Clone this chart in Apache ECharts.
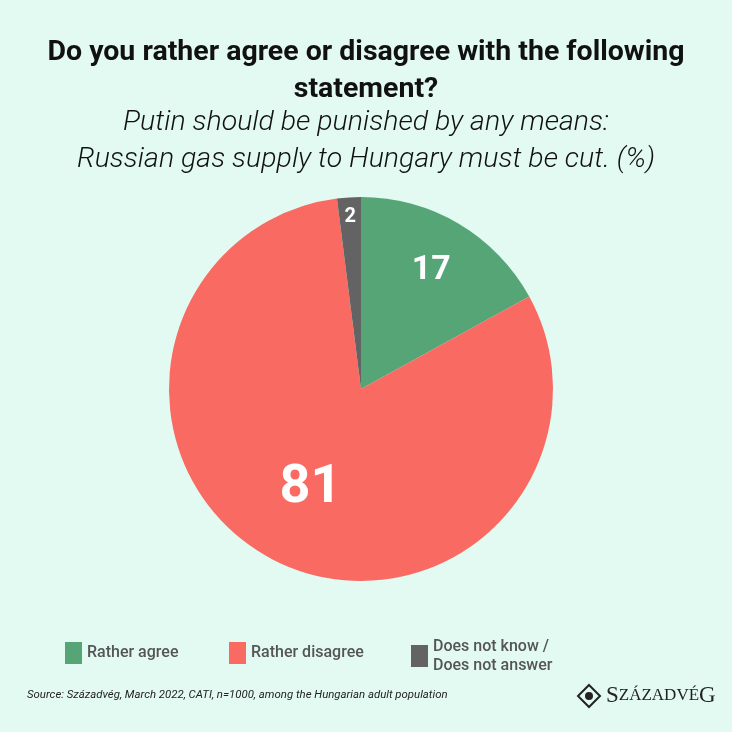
<!DOCTYPE html>
<html><head><meta charset="utf-8">
<script src="https://cdn.jsdelivr.net/npm/echarts@6/dist/echarts.min.js"></script>
<style>html,body{margin:0;padding:0;background:#e3faf2}#c{width:732px;height:732px}</style>
</head><body><div id="c"></div>
<script>
const categories = ['Rather agree', 'Rather disagree', 'Does not know /\nDoes not answer'];
const values = [17, 81, 2];
const colors = ['#55a577', '#f96a62', '#636363'];
const labelSizes = [34, 54, 20];
const labelRadiusFrac = [0.72, 0.58, 0.9];

const chart = echarts.init(document.getElementById('c'));
const CX = 361, CY = 389, R = 192;
const total = values.reduce((a, b) => a + b, 0);
const legendLefts = [60, 224, 406];
const FONT = 'Roboto';

chart.setOption({
  backgroundColor: '#e3faf2',
  title: [
    { text: 'Do you rather agree or disagree with the following\nstatement?', left: 'center', top: 29,
      textStyle: { fontFamily: FONT, fontWeight: 'bold', fontSize: 28.5, lineHeight: 37, color: '#111' } },
    { text: 'Putin should be punished by any means:\nRussian gas supply to Hungary must be cut. (%)', left: 'center', top: 99,
      textStyle: { fontFamily: FONT, fontStyle: 'italic', fontWeight: 300, fontSize: 28.5, lineHeight: 37, color: '#111' } }
  ],
  legend: categories.map((c, i) => ({
    data: [c], left: legendLefts[i], top: i === 2 ? 632 : 637, orient: 'horizontal',
    icon: 'rect', itemWidth: 17, itemHeight: 22, itemGap: 6, selectedMode: false,
    textStyle: { fontFamily: FONT, fontSize: 16, fontWeight: 500, color: '#555', lineHeight: 19, padding: [i === 2 ? 0 : 3, 0, 0, 0] }
  })),
  series: [{
    type: 'pie', center: [CX, CY], radius: R, startAngle: 90, clockwise: true,
    silent: true, avoidLabelOverlap: false,
    data: categories.map((c, i) => ({
      name: c, value: values[i], itemStyle: { color: colors[i] },
      label: { fontSize: labelSizes[i] }
    })),
    label: { show: true, position: 'inside', formatter: '{c}', color: '#fff', fontFamily: FONT, fontWeight: 'bold' },
    labelLine: { show: false },
    labelLayout: function (p) {
      let cum = 0;
      for (let k = 0; k < p.dataIndex; k++) cum += values[k];
      const mid = (cum + values[p.dataIndex] / 2) / total * 2 * Math.PI;
      const r = R * labelRadiusFrac[p.dataIndex];
      return { x: CX + r * Math.sin(mid), y: CY - r * Math.cos(mid), align: 'center', verticalAlign: 'middle' };
    }
  }],
  graphic: [
    { type: 'text', left: 27, top: 690, style: { text: 'Source: Századvég, March 2022, CATI, n=1000, among the Hungarian adult population',
      fontFamily: FONT, fontStyle: 'italic', fontSize: 11.4, fill: '#222' } },
    { type: 'polygon', shape: { points: [[589, 685], [600, 696], [589, 707], [578, 696]] },
      style: { fill: 'none', stroke: '#222', lineWidth: 2 } },
    { type: 'circle', shape: { cx: 589, cy: 696, r: 4 }, style: { fill: '#222' } },
    { type: 'text', left: 606, top: 684, style: {
      text: '{a|S}{b|ZÁZADVÉ}{a|G}',
      rich: { a: { fontFamily: 'Liberation Serif', fontSize: 23, fill: '#222' },
              b: { fontFamily: 'Liberation Serif', fontSize: 17, fill: '#222' } } } }
  ]
});
</script></body></html>
